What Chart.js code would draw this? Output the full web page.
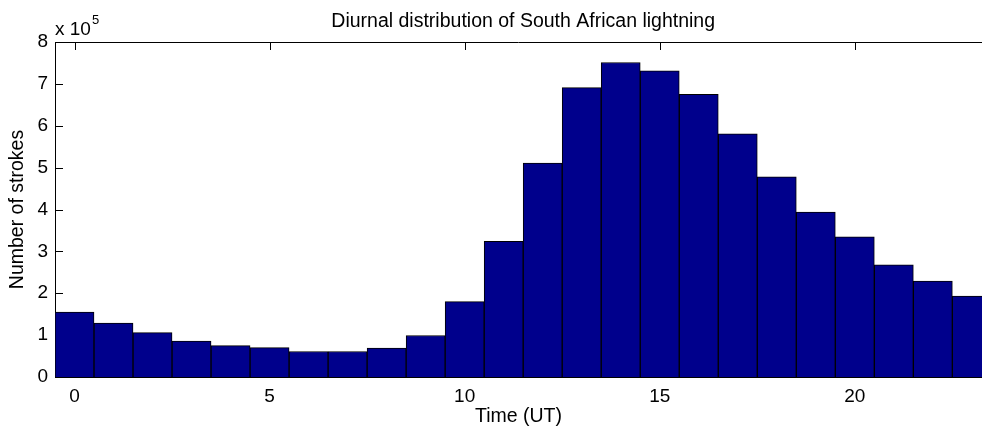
<!DOCTYPE html>
<html>
<head>
<meta charset="utf-8">
<title>Diurnal distribution of South African lightning</title>
<script src="https://cdn.jsdelivr.net/npm/chart.js@4.4.1/dist/chart.umd.min.js"></script>
<style>
    html, body { margin: 0; padding: 0; background: #fff; overflow: hidden; }
    #wrap { width: 982px; height: 430px; position: relative; }
</style>
</head>
<body>
<div id="wrap"><canvas id="diurnal-chart"></canvas></div>
<script>
// hour of day (UT), one bin per hour
const hours = [0, 1, 2, 3, 4, 5, 6, 7, 8, 9, 10, 11, 12, 13, 14, 15, 16, 17, 18, 19, 20, 21, 22, 23];
// number of strokes per hour
const strokeCounts = [
    155000, 129000, 106000, 86000, 75000, 70000, 61000, 61000, 69000, 99000, 180000, 324000,
    511000, 691000, 751000, 731000, 675000, 581000, 478000, 394000, 335000, 268000, 229000, 193000
];
const xTicks = [0, 5, 10, 15, 20];
const yTicks = [0, 100000, 200000, 300000, 400000, 500000, 600000, 700000, 800000];
const xLimits = [-0.5, 23.26];   // the right side of the figure is cut off
const yLimits = [0, 800000];
const yExponent = 5;

const chartTitle = 'Diurnal distribution of South African lightning';
const FONT = '"Liberation Sans", Arial, Helvetica, sans-serif';
const BAR_COLOR = 'rgb(0, 0, 140)';

// matlab style box: top edge, inward ticks, title and the "x 10^5" multiplier
const matlabAxes = {
    id: 'matlabAxes',
    beforeDatasetsDraw(chart) {
        const { ctx, chartArea: area, scales } = chart;
        const tickLen = 8;
        ctx.save();
        ctx.strokeStyle = '#000';
        ctx.lineWidth = 1;
        ctx.beginPath();
        const top = Math.round(area.top) + 0.5;
        ctx.moveTo(area.left, top);
        ctx.lineTo(area.right, top);
        yTicks.forEach(v => {
            const y = Math.round(scales.y.getPixelForValue(v)) + 0.5;
            ctx.moveTo(area.left, y);
            ctx.lineTo(area.left + tickLen, y);
        });
        xTicks.forEach(v => {
            const x = Math.round(scales.x.getPixelForValue(v)) + 0.5;
            ctx.moveTo(x, area.top);
            ctx.lineTo(x, area.top + tickLen);
            ctx.moveTo(x, area.bottom);
            ctx.lineTo(x, area.bottom - tickLen);
        });
        ctx.stroke();
        ctx.restore();
    },
    afterDraw(chart) {
        const { ctx, chartArea: area, scales } = chart;
        ctx.save();
        ctx.fillStyle = '#000';
        // title centred over the full (uncut) axis
        ctx.font = '19.5px ' + FONT;
        ctx.textAlign = 'center';
        ctx.textBaseline = 'alphabetic';
        const mid = scales.x.getPixelForValue((hours[0] + hours[hours.length - 1]) / 2);
        ctx.fillText(chartTitle, mid, 27);
        // exponent label
        ctx.textAlign = 'left';
        ctx.font = '19px ' + FONT;
        const base = 'x 10';
        ctx.fillText(base, area.left, 35);
        const w = ctx.measureText(base).width;
        ctx.font = '13px ' + FONT;
        ctx.fillText(String(yExponent), area.left + w + 1, 24);
        ctx.restore();
    }
};

function initDiurnalChart() {
    const ctx = document.getElementById('diurnal-chart')?.getContext('2d');
    if (!ctx) {
        console.error('chart canvas not found');
        return;
    }

    return new Chart(ctx, {
        type: 'bar',
        data: {
            datasets: [{
                label: 'Strokes',
                data: hours.map((h, i) => ({ x: h, y: strokeCounts[i] })),
                backgroundColor: BAR_COLOR,
                borderColor: '#000',
                borderWidth: 1,
                borderSkipped: 'start',
                barPercentage: 1,
                categoryPercentage: 1
            }]
        },
        options: {
            responsive: true,
            maintainAspectRatio: false,
            animation: false,
            layout: {
                padding: { top: 42, right: 0, bottom: 0, left: 0 }
            },
            plugins: {
                legend: { display: false },
                tooltip: { enabled: false },
                title: { display: false }
            },
            scales: {
                x: {
                    type: 'linear',
                    offset: false,
                    min: xLimits[0],
                    max: xLimits[1],
                    afterBuildTicks: scale => {
                        scale.ticks = xTicks.map(v => ({ value: v }));
                    },
                    afterFit: scale => { scale.height = 53; },
                    grid: { display: false, drawTicks: false, offset: false },
                    border: { display: true, color: '#000', width: 1 },
                    ticks: {
                        color: '#000',
                        padding: 8,
                        maxRotation: 0,
                        font: { size: 19, family: FONT }
                    },
                    title: {
                        display: true,
                        text: 'Time (UT)',
                        color: '#000',
                        padding: { top: 0, bottom: 2 },
                        font: { size: 19.5, family: FONT }
                    }
                },
                y: {
                    min: yLimits[0],
                    max: yLimits[1],
                    afterBuildTicks: scale => {
                        scale.ticks = yTicks.map(v => ({ value: v }));
                    },
                    afterFit: scale => { scale.width = 55; },
                    grid: { display: false, drawTicks: false },
                    border: { display: true, color: '#000', width: 1 },
                    ticks: {
                        color: '#000',
                        padding: 7,
                        font: { size: 19, family: FONT },
                        callback: v => String(v / Math.pow(10, yExponent))
                    },
                    title: {
                        display: true,
                        text: 'Number of strokes',
                        color: '#000',
                        padding: { top: 6, bottom: 0 },
                        font: { size: 19.5, family: FONT }
                    }
                }
            }
        },
        plugins: [matlabAxes]
    });
}

document.addEventListener('DOMContentLoaded', () => {
    initDiurnalChart();
});
</script>
</body>
</html>
